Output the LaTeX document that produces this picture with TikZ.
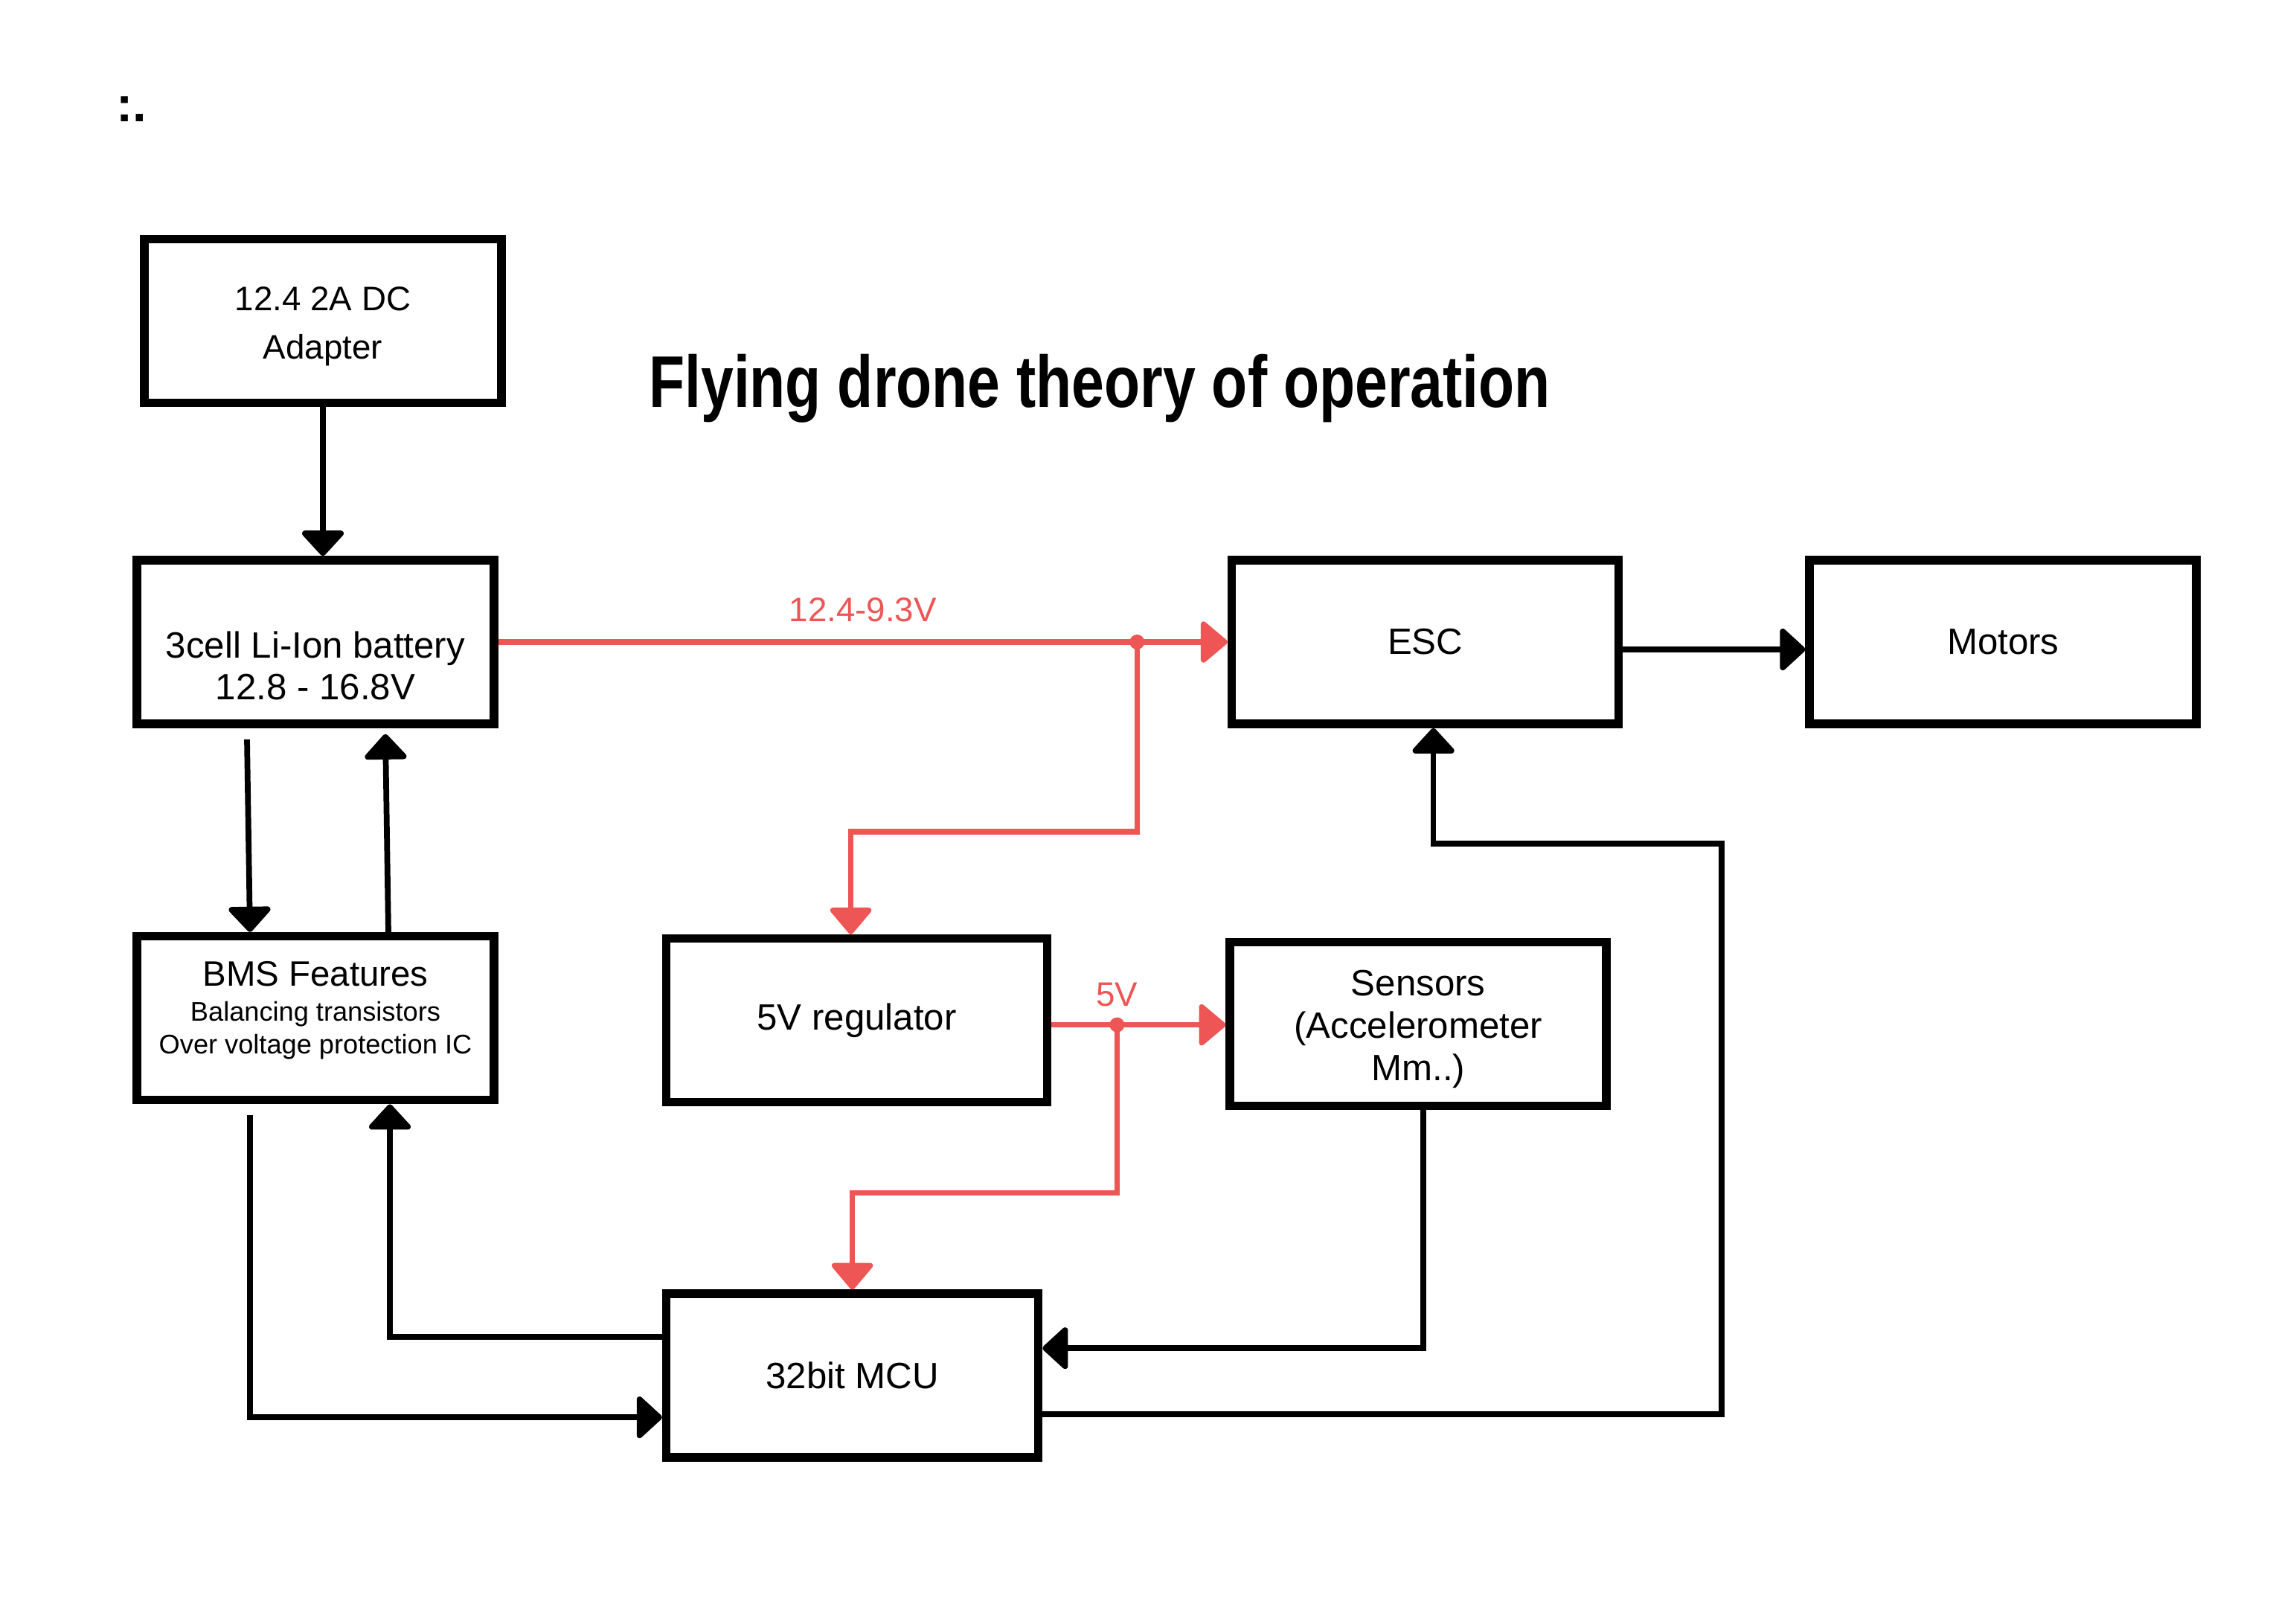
\documentclass[tikz,border=0pt]{standalone}
\usepackage{xcolor}
\usepackage{tikz}
\usepackage{fontspec}
\setmainfont{Liberation Sans}
\newfontfamily\titlefont[FakeStretch=0.8]{Liberation Sans}
\usetikzlibrary{positioning,arrows.meta}
\definecolor{wirered}{HTML}{EE5555}

\begin{document}
\begin{tikzpicture}[
    blockbox/.style={draw, rectangle, line width=3.3pt, minimum width=4.8cm, minimum height=2.2cm, align=center, font=\fontsize{14}{16}\selectfont},
    wire/.style={line width=2.2pt, -{Triangle[width=0.64cm,length=0.36cm,round]}},
    redwire/.style={wirered, line width=2.1pt, -{Triangle[width=0.62cm,length=0.38cm,round]}},
    redlabel/.style={text=wirered, font=\fontsize{13}{13}\selectfont}
]
    \useasboundingbox (0,0) rectangle (30.86,-21.82);

    % Define nodes
    \node[font=\bfseries\fontsize{19}{19}\selectfont, anchor=base west, inner sep=0] (mark) at (1.56,-1.63) {:.};
    \node[font=\titlefont\bfseries\fontsize{28}{28}\selectfont, anchor=base] (title) at (14.78,-5.47) {Flying drone theory of operation};

    \node[blockbox, text height=44pt, text depth=0pt] (battery) at (4.24,-8.63) {3cell Li-Ion battery\\12.8 - 16.8V};
    \node[blockbox, above=2.0cm of battery, xshift=0.1cm, font=\fontsize{13}{18.5}\selectfont, text height=29pt, text depth=0pt] (adapter) {12.4 2A DC\\Adapter};
    \node[blockbox, below=2.74cm of battery, font=\fontsize{13.5}{12.3}\selectfont, text height=27pt, text depth=0pt] (bms) {BMS Features\\[1.1pt]{\fontsize{10.3}{12.3}\selectfont Balancing transistors}\\{\fontsize{10.3}{12.3}\selectfont Over voltage protection IC}};
    \node[blockbox, right=9.8cm of battery, minimum width=5.2cm] (esc) {ESC};
    \node[blockbox, right=2.45cm of esc, minimum width=5.2cm] (motors) {Motors};
    \node[blockbox, right=2.2cm of bms, yshift=-0.03cm, minimum width=5.12cm] (reg) {5V regulator};
    \node[blockbox, right=2.34cm of reg, yshift=-0.05cm, minimum width=5.06cm, font=\fontsize{14}{16.2}\selectfont, text height=43pt, text depth=0pt] (sensors) {Sensors\\(Accelerometer\\Mm..)};
    \node[blockbox, below=2.46cm of reg, xshift=-0.06cm, minimum width=5.0cm] (mcu) {32bit MCU};
    \coordinate (regout) at ([yshift=-0.06cm]reg.east);
    \coordinate (escloop) at (23.14,-11.34);

    % Define connections
    \draw[wire] (adapter.south) -- (adapter.south |- battery.north);
    \draw[redwire] (battery.east) -- (esc.west) node[midway, above=0.12cm, redlabel] {12.4-9.3V} coordinate[pos=0.876] (j1);
    \fill[wirered] (j1) circle (0.1);
    \draw[redwire] (j1) -- ++(0,-2.55) -| ([xshift=-0.08cm]reg.north);
    \draw[redwire] (regout) -- (sensors.west |- regout) coordinate[pos=0.376] (j2);
    \node[redlabel, above=0.12cm] (fivevolt) at (j2) {5V};
    \fill[wirered] (j2) circle (0.1);
    \draw[redwire] (j2) -- ++(0,-2.26) -| (mcu.north);

    \draw[wire] ([xshift=-0.92cm,yshift=-0.15cm]battery.south) -- ([xshift=-0.88cm]bms.north);
    \draw[wire] ([xshift=0.98cm]bms.north) -- ([xshift=0.94cm,yshift=-0.08cm]battery.south);
    \draw[wire] ([yshift=-0.1cm]esc.east) -- ([yshift=-0.1cm]motors.west);

    \draw[wire] ([xshift=0.07cm]sensors.south) |- ([yshift=0.37cm]mcu.east);
    \draw[wire] ([yshift=-0.52cm]mcu.east) -| (escloop) -| ([xshift=0.11cm]esc.south);
    \draw[wire] ([yshift=0.52cm]mcu.west) -| ([xshift=1cm]bms.south);
    \draw[wire] ([xshift=-0.88cm,yshift=-0.15cm]bms.south) |- ([yshift=-0.56cm]mcu.west);
\end{tikzpicture}
\end{document}
